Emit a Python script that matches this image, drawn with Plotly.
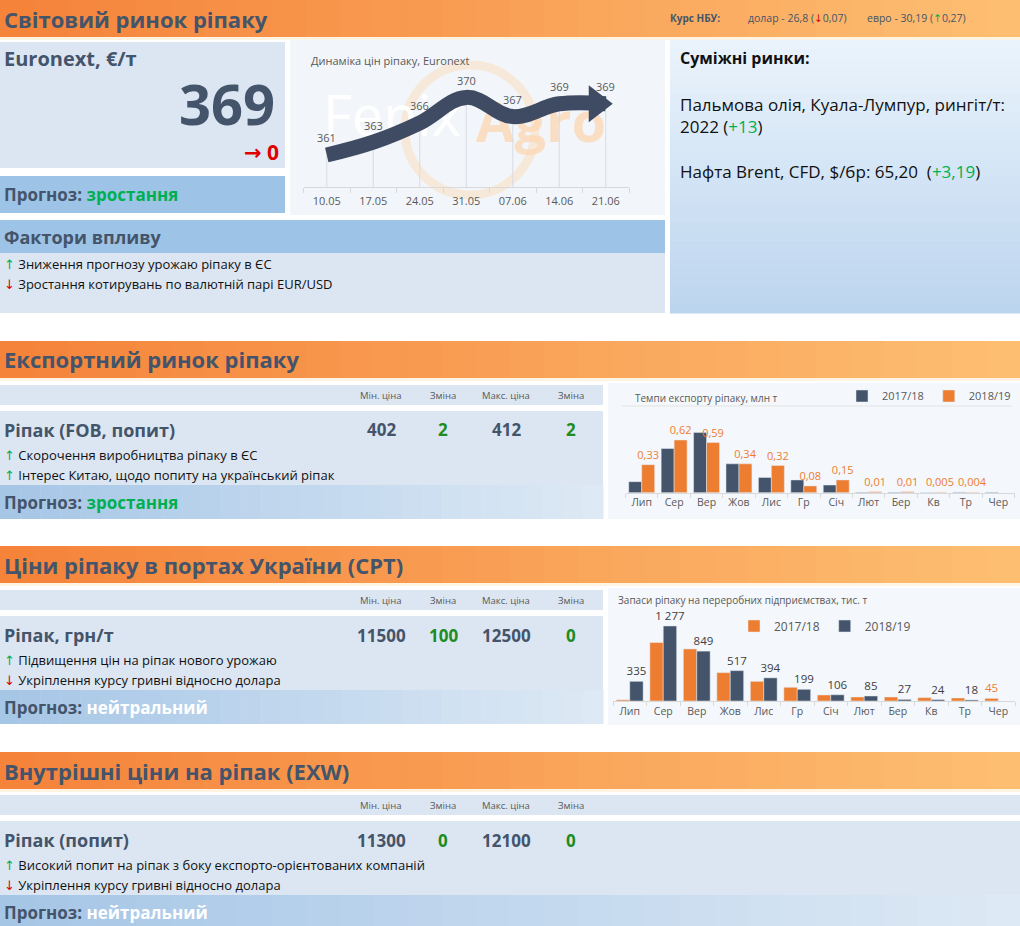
import plotly.graph_objects as go

W, H = 1020, 926

# ---- data ----
euronext_dates = ["10.05", "17.05", "24.05", "31.05", "07.06", "14.06", "21.06"]
euronext_prices = [361, 363, 366, 370, 367, 369, 369]
euronext_last = 369
euronext_change = 0

months = ["Лип", "Сер", "Вер", "Жов", "Лис", "Гр", "Січ", "Лют", "Бер", "Кв", "Тр", "Чер"]
export_1718 = [0.13, 0.52, 0.71, 0.34, 0.18, 0.15, 0.09, 0.005, 0.005, 0.003, 0.005, 0.006]
export_1819 = [0.33, 0.62, 0.59, 0.34, 0.32, 0.08, 0.15, 0.01, 0.01, 0.005, 0.004, None]

stocks_1718 = [20, 995, 886, 483, 335, 233, 102, 68, 68, 57, 51, 45]
stocks_1819 = [335, 1277, 849, 517, 394, 199, 106, 85, 27, 24, 18, None]

price_columns = ["Мін. ціна", "Зміна", "Макс. ціна", "Зміна"]
fob_prices = [402, 2, 412, 2]
cpt_prices = [11500, 100, 12500, 0]
exw_prices = [11300, 0, 12100, 0]

fx_usd = ("26,8", "0,07", "down")
fx_eur = ("30,19", "0,27", "up")

world_factors = [("up", "Зниження прогнозу урожаю ріпаку в ЄС"),
                 ("down", "Зростання котирувань по валютній парі EUR/USD")]
fob_factors = [("up", "Скорочення виробництва ріпаку в ЄС"),
               ("up", "Інтерес Китаю, щодо попиту на український ріпак")]
cpt_factors = [("up", "Підвищення цін на ріпак нового урожаю"),
               ("down", "Укріплення курсу гривні відносно долара")]
exw_factors = [("up", "Високий попит на ріпак з боку експорто-орієнтованих компаній"),
               ("down", "Укріплення курсу гривні відносно долара")]

# ---- style ----
FONT = "Open Sans, DejaVu Sans, sans-serif"
SLATE = "#44546A"
GREY = "#595959"
GREEN = "#00B050"
DKGREEN = "#1E8C1E"
RED = "#E00000"
ORANGE = "#ED7D31"
LIGHT = "#DCE6F2"
MID = "#9DC3E6"

fig = go.Figure()
shapes = []


def hexrgb(c):
    c = c.lstrip("#")
    return [int(c[i:i + 2], 16) for i in (0, 2, 4)]


def mix(c0, c1, t):
    a, b = hexrgb(c0), hexrgb(c1)
    return "rgb(%d,%d,%d)" % tuple(round(a[i] + (b[i] - a[i]) * t) for i in range(3))


def box(x0, y0, x1, y1, color):
    shapes.append(dict(type="rect", xref="paper", yref="paper", layer="below",
                       x0=x0 / W, x1=x1 / W, y0=1 - y1 / H, y1=1 - y0 / H,
                       fillcolor=color, line_width=0))


def hgrad(x0, y0, x1, y1, c0, c1, n=30):
    step = (x1 - x0) / n
    for i in range(n):
        box(x0 + i * step, y0, x0 + (i + 1) * step + 0.5, y1, mix(c0, c1, i / (n - 1)))


def vgrad(x0, y0, x1, y1, c0, c1, n=30):
    step = (y1 - y0) / n
    for i in range(n):
        box(x0, y0 + i * step, x1, y0 + (i + 1) * step + 0.5, mix(c0, c1, i / (n - 1)))


def text(x, y, s, size, color=SLATE, anchor="left", family=FONT):
    fig.add_annotation(x=x / W, y=1 - y / H, xref="paper", yref="paper", text=s,
                       showarrow=False, xanchor=anchor, yanchor="middle",
                       font=dict(size=size, color=color, family=family))


def arrow(kind):
    if kind == "up":
        return "<span style='color:%s'>↑</span>" % GREEN
    return "<span style='color:%s'>↓</span>" % RED


def header(y0, y1, title):
    hgrad(0, y0, W, y1, "#F5833A", "#FDBE72")
    box(0, y1, W, y1 + 3, "#FFF4E2")
    text(2, (y0 + y1) / 2, "<b>%s</b>" % title, 22)


def factor_lines(y_first, items, size=13):
    for i, (kind, s) in enumerate(items):
        text(2, y_first + i * 20, arrow(kind) + " <span style='color:#111'>%s</span>" % s, size)


def price_block(top, right, name, values, factors, forecast, forecast_color):
    box(0, top, right, top + 20, LIGHT)
    cols = [381, 443, 506, 571]
    for cx, lab in zip(cols, price_columns):
        text(cx, top + 10, lab, 9.5, GREY, "center")
    box(0, top + 26, right, top + 100, LIGHT)
    text(2, top + 45, "<b>%s</b>" % name, 18)
    for i, (cx, v) in enumerate(zip(cols, values)):
        col = DKGREEN if i % 2 else SLATE
        text(cx, top + 45, "<b>%s</b>" % v, 17, col, "center")
    factor_lines(top + 70, factors)
    hgrad(0, top + 100, right, top + 134, "#A6C6E6", "#DDE9F5")
    text(2, top + 117, "<b>Прогноз: <span style='color:%s'>%s</span></b>" % (forecast_color, forecast), 17)


# ---- section 1: world market ----
header(0, 37, "Світовий ринок ріпаку")
text(668, 18, "<b>Курс НБУ:</b>", 10, SLATE)
text(746, 18, "долар - %s (%s%s)" % (fx_usd[0], arrow(fx_usd[2]), fx_usd[1]), 10.5, SLATE)
text(865, 18, "евро - %s (%s%s)" % (fx_eur[0], arrow(fx_eur[2]), fx_eur[1]), 10.5, SLATE)

box(0, 42, 285, 168, LIGHT)
text(2, 58, "<b>Euronext, €/т</b>", 20)
text(277, 103, "<b>%d</b>" % euronext_last, 56, SLATE, "right")
text(281, 152, "<b>→ %d</b>" % euronext_change, 21, RED, "right")
box(0, 176, 285, 213, MID)
text(2, 194, "<b>Прогноз: <span style='color:%s'>зростання</span></b>" % GREEN, 17)

box(290, 40, 665, 215, "#F2F6FA")
text(309, 60, "Динаміка цін ріпаку, Euronext", 11, GREY)

box(0, 220, 665, 253, MID)
text(2, 237, "<b>Фактори впливу</b>", 18)
box(0, 253, 665, 313, LIGHT)
factor_lines(264, world_factors)

vgrad(670, 40, W, 313, "#EAF3FC", "#BCD5EE")
text(678, 58, "<b>Суміжні ринки:</b>", 16, "#111")
text(678, 104, "Пальмова олія, Куала-Лумпур, рингіт/т:", 17, "#111")
text(678, 127, "2022 (<span style='color:%s'>+13</span>)" % GREEN, 17, "#111")
text(678, 172, "Нафта Brent, CFD, $/бр: 65,20  (<span style='color:%s'>+3,19</span>)" % GREEN, 17, "#111")

# watermark behind the Euronext line
shapes.append(dict(type="circle", xref="paper", yref="paper", layer="below",
                   x0=405 / W, x1=535 / W, y0=1 - 195 / H, y1=1 - 65 / H,
                   line=dict(color="rgba(252,222,190,0.55)", width=9)))
shapes.append(dict(type="rect", xref="paper", yref="paper", layer="below",
                   x0=322 / W, x1=462 / W, y0=1 - 145 / H, y1=1 - 90 / H, line_width=0,
                   label=dict(text="Fenix", font=dict(size=56, color="#FFFFFF", family=FONT))))
shapes.append(dict(type="rect", xref="paper", yref="paper", layer="below",
                   x0=450 / W, x1=632 / W, y0=1 - 150 / H, y1=1 - 98 / H, line_width=0,
                   label=dict(text="<b>Agro</b>", font=dict(size=56, color="rgba(252,214,176,0.75)", family=FONT))))

# ---- section 2: export ----
header(341, 378, "Експортний ринок ріпаку")
price_block(385, 603, "Ріпак (FOB, попит)", fob_prices, fob_factors, "зростання", GREEN)
box(608, 383, W, 519, "#F4F7FB")
text(633, 398, "Темпи експорту ріпаку, млн т", 10, GREY)
shapes.append(dict(type="line", xref="paper", yref="paper", layer="below",
                   x0=622 / W, x1=1012 / W, y0=1 - 406 / H, y1=1 - 406 / H,
                   line=dict(color="#E3E3E3", width=1)))

# ---- section 3: CPT ----
header(546, 583, "Ціни ріпаку в портах України (CPT)")
price_block(590, 603, "Ріпак, грн/т", cpt_prices, cpt_factors, "нейтральний", "#FFFFFF")
box(608, 588, W, 725, "#F4F7FB")
text(616, 600, "Запаси ріпаку на переробних підприємствах, тис. т", 10, GREY)

# ---- section 4: EXW ----
header(752, 789, "Внутрішні ціни на ріпак (EXW)")
price_block(795, W, "Ріпак (попит)", exw_prices, exw_factors, "нейтральний", "#FFFFFF")

# ---- Euronext line chart ----
floor = 356
fig.add_trace(go.Scatter(
    x=euronext_dates, y=euronext_prices, mode="markers",
    marker=dict(size=1, color="rgba(0,0,0,0)"),
    error_y=dict(type="data", symmetric=False, array=[0] * len(euronext_prices),
                 arrayminus=[p - floor for p in euronext_prices],
                 color="#D8DCE2", thickness=1, width=0),
    showlegend=False, hoverinfo="skip", xaxis="x", yaxis="y"))
fig.add_trace(go.Scatter(
    x=euronext_dates, y=euronext_prices, mode="lines",
    line=dict(color="#3E4B63", width=15, shape="spline", smoothing=1.1),
    showlegend=False, xaxis="x", yaxis="y"))
fig.add_trace(go.Scatter(
    x=euronext_dates[-1:], y=euronext_prices[-1:], mode="markers",
    marker=dict(symbol="triangle-up", angle=90, standoff=9, size=32, color="#3E4B63"),
    showlegend=False, xaxis="x", yaxis="y"))
for i, p in enumerate(euronext_prices):
    fig.add_annotation(x=i, y=p, xref="x", yref="y", text=str(p), showarrow=False,
                       yshift=17, font=dict(size=11, color=GREY, family=FONT))

# ---- export bars ----
fig.add_trace(go.Bar(
    x=months, y=export_1718, name="2017/18", marker_color=SLATE,
    xaxis="x2", yaxis="y2", legend="legend"))
fig.add_trace(go.Bar(
    x=months, y=export_1819, name="2018/19", marker_color=ORANGE,
    text=["" if v is None else str(v).replace(".", ",") for v in export_1819],
    textposition="outside", constraintext="none",
    textfont=dict(size=11, color=ORANGE, family=FONT),
    cliponaxis=False, xaxis="x2", yaxis="y2", legend="legend"))

# ---- stocks bars ----
fig.add_trace(go.Bar(
    x=months, y=stocks_1718, name="2017/18", marker_color=ORANGE,
    text=[str(a) if b is None else "" for a, b in zip(stocks_1718, stocks_1819)],
    textposition="outside", constraintext="none",
    textfont=dict(size=11.5, color=ORANGE, family=FONT),
    cliponaxis=False, xaxis="x3", yaxis="y3", legend="legend2"))
fig.add_trace(go.Bar(
    x=months, y=stocks_1819, name="2018/19", marker_color=SLATE,
    text=["" if v is None else format(v, ",").replace(",", " ") for v in stocks_1819],
    textposition="outside", constraintext="none",
    textfont=dict(size=11.5, color="#404040", family=FONT),
    cliponaxis=False, xaxis="x3", yaxis="y3", legend="legend2"))

cat_axis = dict(type="category", showline=True, linecolor="#D9D9D9", showgrid=False,
                zeroline=False, tickangle=0, dtick=1, ticks="outside", tickson="boundaries",
                ticklen=4, tickcolor="#D9D9D9", tickfont=dict(size=10.5, color=GREY, family=FONT))
val_axis = dict(visible=False, showgrid=False, zeroline=False)

fig.update_layout(
    width=W, height=H, margin=dict(l=0, r=0, t=0, b=0),
    paper_bgcolor="white", plot_bgcolor="rgba(0,0,0,0)",
    font=dict(family=FONT, color=SLATE),
    barmode="group", bargap=0.2, bargroupgap=0,
    shapes=shapes,
    xaxis=dict(cat_axis, domain=[303.5 / W, 629 / W], range=[-0.5, 6.5], anchor="y",
               ticklen=5, ticklabelstandoff=4,
               tickfont=dict(size=11, color=GREY, family=FONT)),
    yaxis=dict(val_axis, domain=[1 - 187 / H, 1 - 75 / H], range=[floor, 373.5], anchor="x"),
    xaxis2=dict(cat_axis, domain=[625.5 / W, 1014.5 / W], range=[-0.5, 11.5], anchor="y2"),
    yaxis2=dict(val_axis, domain=[1 - 492.7 / H, 1 - 412 / H], range=[0, 0.95], anchor="x2"),
    xaxis3=dict(cat_axis, domain=[613 / W, 1015 / W], range=[-0.5, 11.5], anchor="y3"),
    yaxis3=dict(val_axis, domain=[1 - 701 / H, 1 - 612 / H], range=[0, 1515], anchor="x3"),
    legend=dict(orientation="h", x=842 / W, y=1 - 396 / H, xanchor="left", yanchor="middle",
                bgcolor="rgba(0,0,0,0)", font=dict(size=11, color=GREY, family=FONT),
                itemwidth=30),
    legend2=dict(orientation="h", x=734 / W, y=1 - 626 / H, xanchor="left", yanchor="middle",
                 bgcolor="rgba(0,0,0,0)", font=dict(size=12, color=GREY, family=FONT),
                 itemwidth=30),
)

fig.write_html("out.html", config={"displayModeBar": False},
               post_script="document.body.style.margin='0px';")
